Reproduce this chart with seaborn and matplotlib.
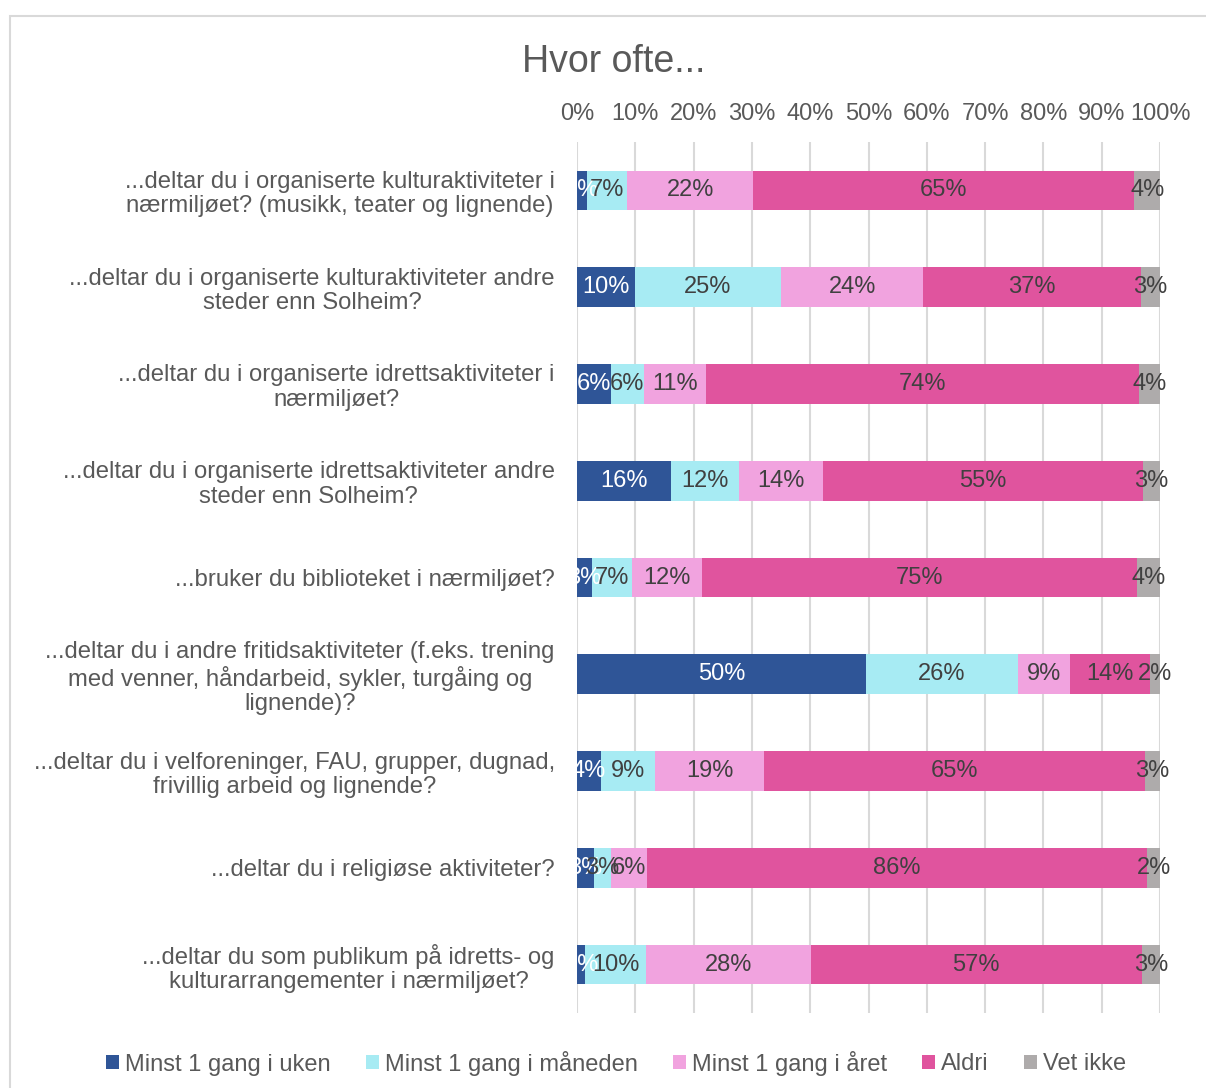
import matplotlib
matplotlib.use('Agg')
import matplotlib.pyplot as plt
from matplotlib.patches import Patch, Rectangle
from matplotlib.ticker import PercentFormatter
import numpy as np
import pandas as pd
import seaborn as sns

# data (shares in %)
sporsmal = [
    '...deltar du i organiserte kulturaktiviteter i\nnærmiljøet? (musikk, teater og lignende)',
    '...deltar du i organiserte kulturaktiviteter andre\nsteder enn Solheim?',
    '...deltar du i organiserte idrettsaktiviteter i\nnærmiljøet?',
    '...deltar du i organiserte idrettsaktiviteter andre\nsteder enn Solheim?',
    '...bruker du biblioteket i nærmiljøet?',
    '...deltar du i andre fritidsaktiviteter (f.eks. trening\nmed venner, håndarbeid, sykler, turgåing og\nlignende)?',
    '...deltar du i velforeninger, FAU, grupper, dugnad,\nfrivillig arbeid og lignende?',
    '...deltar du i religiøse aktiviteter?',
    '...deltar du som publikum på idretts- og\nkulturarrangementer i nærmiljøet?',
]
kategorier = ['Minst 1 gang i uken', 'Minst 1 gang i måneden', 'Minst 1 gang i året', 'Aldri', 'Vet ikke']

uke = [1.7, 9.9, 5.8, 16.1, 2.6, 49.6, 4.1, 2.9, 1.4]
maaned = [6.9, 25.1, 5.7, 11.7, 6.8, 26.0, 9.3, 2.9, 10.4]
aar = [21.6, 24.4, 10.6, 14.4, 12.0, 9.0, 18.7, 6.2, 28.3]
aldri = [65.4, 37.3, 74.3, 54.9, 74.6, 13.6, 65.3, 85.8, 56.8]
vet_ikke = [4.4, 3.3, 3.6, 2.9, 4.0, 1.8, 2.6, 2.2, 3.1]

farger = ['#2F5597', '#A7EBF3', '#F1A3DF', '#E0549E', '#AEABAB']
tekstfarge = ['white', '#404040', '#404040', '#404040', '#404040']

df = pd.DataFrame({'sporsmal': sporsmal})
for k, v in zip(kategorier, [uke, maaned, aar, aldri, vet_ikke]):
    df[k] = v
cum = df[kategorier].cumsum(axis=1)

plt.rcParams['font.family'] = ['Liberation Sans', 'DejaVu Sans']
fig = plt.figure(figsize=(12.06, 10.88), dpi=100)
ax = fig.add_axes([577/1206, 1 - 1013/1088, 583/1206, 871/1088])

# stacked bars: draw cumulative totals from the back to the front
for i in range(len(kategorier) - 1, -1, -1):
    sns.barplot(x=cum[kategorier[i]], y=df['sporsmal'], orient='h', color=farger[i],
                width=0.41, saturation=1, ax=ax, zorder=3, linewidth=0)

for r in range(len(df)):
    left = 0
    for i, k in enumerate(kategorier):
        v = df[k].iloc[r]
        ax.text(left + v / 2, r, f'{round(v):.0f}%', ha='center', va='center',
                fontsize=17, color=tekstfarge[i], zorder=4)
        left += v

ax.set_xlim(0, 100)
ax.set_ylim(8.5, -0.5)
ax.set_xticks(np.arange(0, 101, 10))
ax.xaxis.set_major_formatter(PercentFormatter(decimals=0))
ax.xaxis.tick_top()
ax.tick_params(axis='x', length=0, pad=12, labelsize=17, labelcolor='#595959')
ax.tick_params(axis='y', length=0, pad=16, labelsize=17.2, labelcolor='#595959')
for lab in ax.get_yticklabels():
    lab.set_multialignment('center')
    lab.set_linespacing(1.15)
ax.grid(axis='x', color='#D9D9D9', linewidth=1.5, zorder=0)
ax.grid(axis='y', visible=False)
for s in ax.spines.values():
    s.set_visible(False)
ax.set_xlabel('')
ax.set_ylabel('')

fig.text(614/1206, 1 - 62/1088, 'Hvor ofte...', ha='center', va='center',
         fontsize=27, color='#595959')

handles = [Patch(facecolor=c, edgecolor='none') for c in farger]
fig.legend(handles, kategorier, loc='center', bbox_to_anchor=(616/1206, 1 - 1063/1088),
           ncol=5, frameon=False, fontsize=17, labelcolor='#595959',
           handlelength=0.55, handleheight=0.55, handletextpad=0.25, columnspacing=1.5)

fig.patches.append(Rectangle((10/1206, -0.01), 1.1, 1 - 16/1088 + 0.01, transform=fig.transFigure,
                             fill=False, edgecolor='#D9D9D9', linewidth=1.5))

fig.savefig('out.png', dpi=100)
